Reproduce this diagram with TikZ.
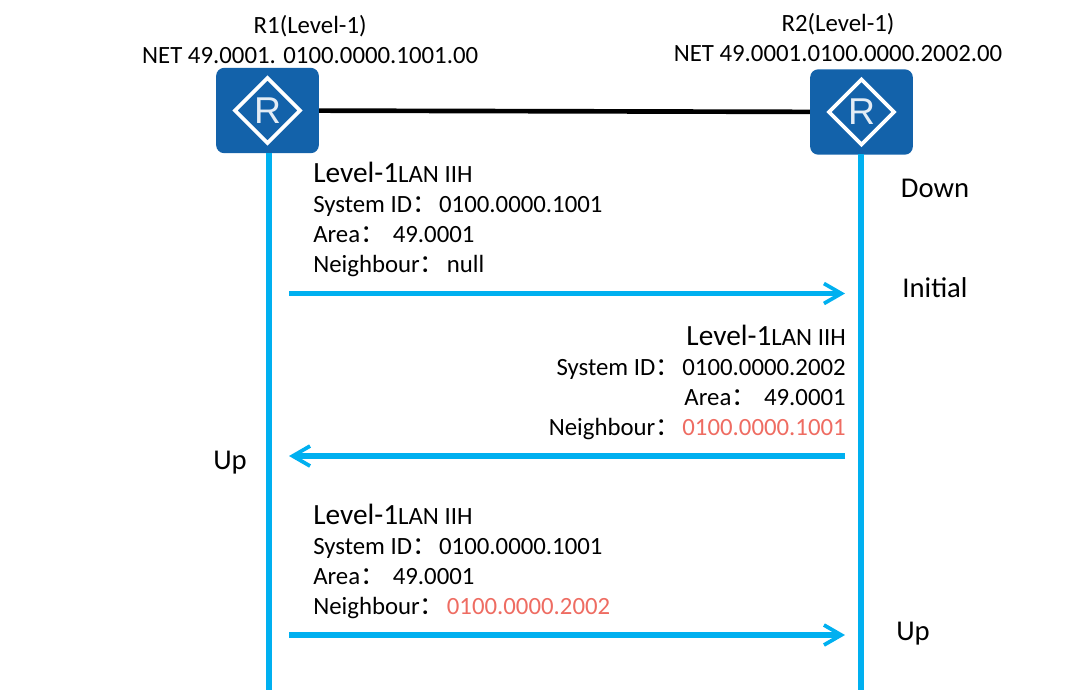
\documentclass[tikz,border=0pt]{standalone}
\usepackage{fontspec}
\setmainfont{Carlito}
\newfontfamily\cjk{Noto Sans CJK SC}
\newfontfamily\rfont{Liberation Sans}
\usetikzlibrary{arrows.meta,positioning,shapes.geometric}
\definecolor{routerblue}{RGB}{19,98,170}
\definecolor{lineblue}{RGB}{0,176,240}
\definecolor{hilite}{RGB}{238,108,98}
\newcommand{\cn}{{\cjk ：}\hspace{-2.5pt}}
\newcommand{\pduhead}{{\fontsize{22}{22.5}\selectfont Level-1}LAN IIH}
\begin{document}
\begin{tikzpicture}[
        x=0.75pt, y=-0.75pt,
        every node/.style={font=\fontsize{18.6}{22.5}\selectfont, inner sep=0pt, text=black},
        router/.style={fill=routerblue, rounded corners=6pt, minimum width=77pt, minimum height=64pt},
        mark diamond/.style={diamond, draw=white, line width=2.8pt, minimum width=50pt, minimum height=50pt},
        letter/.style={font=\rfont\fontsize{28}{28}\selectfont, text=white!88!routerblue},
        state/.style={font=\fontsize{21.5}{24}\selectfont},
        life/.style={draw=lineblue, line width=3.9pt},
        msg/.style={draw=lineblue, line width=3.9pt, -{Straight Barb[length=13pt,width=15pt,line width=2.8pt]}},
        link/.style={draw=black, line width=3.5pt},
    ]
    \useasboundingbox (0,0) rectangle (1091,694);
    % routers
    \node[router] (r1) at (267.5,110.5) {};
    \node[mark diamond] (d1) at (r1) {};
    \node[letter] (l1) at (r1) {R};
    \node[router] (r2) at (861.5,112) {};
    \node[mark diamond] (d2) at (r2) {};
    \node[letter] (l2) at (r2) {R};
    \node[align=center, above=3pt of r1, xshift=32pt] (n1) {R1(Level-1)\\NET 49.0001. 0100.0000.1001.00};
    \node[align=center, above=5.5pt of r2, xshift=-17.6pt] (n2) {R2(Level-1)\\NET 49.0001.0100.0000.2002.00};
    \draw[link] (r1) -- (r2);
    % life lines
    \coordinate (e1) at (269,690);
    \coordinate (e2) at (861,690);
    \coordinate (t1) at (269,153);
    \coordinate (t2) at (861,154);
    \draw[life] (t1) -- (e1);
    \draw[life] (t2) -- (e2);
    % messages
    \coordinate (a1) at (289,293.5);
    \coordinate (b1) at (845,293.5);
    \coordinate (a2) at (289,456);
    \coordinate (b2) at (845,456);
    \coordinate (a3) at (289,635);
    \coordinate (b3) at (845,635);
    \draw[msg] (a1) -- (b1);
    \draw[msg] (b2) -- (a2);
    \draw[msg] (a3) -- (b3);
    % packets
    \node[align=left, anchor=south west] (p1) at (313,277) {\pduhead\\System ID\cn\ 0100.0000.1001\\Area\cn\ \ 49.0001\\Neighbour\cn\ null};
    \node[align=right, anchor=south east] (p2) at (846,440) {\pduhead\\System ID\cn\ 0100.0000.2002\\Area\cn\ \ 49.0001\\Neighbour\cn\ \textcolor{hilite}{0100.0000.1001}};
    \node[align=left, anchor=south west] (p3) at (313,619) {\pduhead\\System ID\cn\ 0100.0000.1001\\Area\cn\ \ 49.0001\\Neighbour\cn\ \textcolor{hilite}{0100.0000.2002}};
    % states
    \node[state] (s1) at (935,188) {Down};
    \node[state] (s2) at (935,288) {Initial};
    \node[state] (s3) at (230,463) {Up};
    \node[state] (s4) at (913,634) {Up};
\end{tikzpicture}
\end{document}
